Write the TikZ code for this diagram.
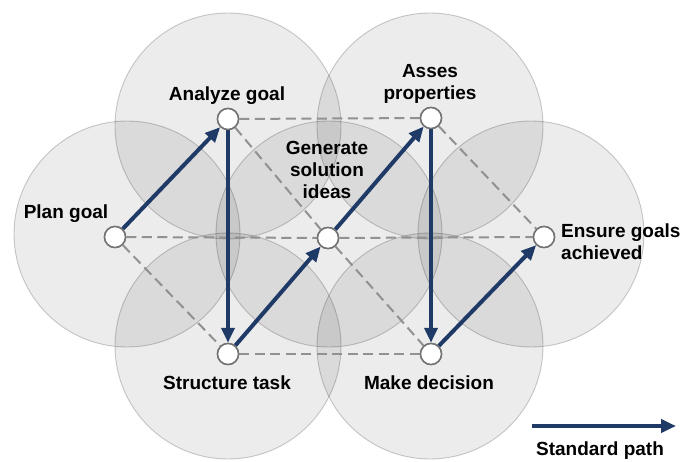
\documentclass[tikz,border=0pt]{standalone}
\usepackage{fontspec}
\setmainfont{Liberation Sans}
\usetikzlibrary{arrows.meta}
\definecolor{navy}{RGB}{31,58,102}
\definecolor{dashgray}{RGB}{145,145,145}
\begin{document}
\begin{tikzpicture}[x=1pt,y=-1pt,
  bigc/.style={fill=black,fill opacity=0.075,draw=black,draw opacity=0.2,line width=0.9pt},
  dot/.style={circle,draw=black!55,fill=white,line width=1.5pt,minimum size=21pt,inner sep=0pt},
  dash line/.style={draw=dashgray,line width=2pt,dash pattern=on 10pt off 5.5pt},
  path arrow/.style={draw=navy,line width=4pt,-{Triangle[length=15pt,width=13pt]}},
  lbl/.style={font=\fontsize{19}{22}\selectfont\bfseries,text=black,inner sep=0pt,align=center}
]
\fill[white] (0,0) rectangle (684,462);
\useasboundingbox (0,0) rectangle (684,462);

% large overlapping circles
\foreach \cx/\cy in {127/234,228/126,228/346,329/234,430/126,430/346,531/234}
  \path[bigc] (\cx,\cy) circle[radius=113];

% step points
\node[dot] (plan) at (115,237) {};
\node[dot] (ana) at (228,119) {};
\node[dot] (str) at (228,354) {};
\node[dot] (gen) at (328,238) {};
\node[dot] (ass) at (431,118) {};
\node[dot] (mak) at (431,354) {};
\node[dot] (ens) at (544,237) {};

% dashed alternatives
\path[dash line] (ana) -- (ass);
\path[dash line] (plan) -- (gen);
\path[dash line] (gen) -- (ens);
\path[dash line] (str) -- (mak);
\path[dash line] (plan) -- (str);
\path[dash line] (ana) -- (gen);
\path[dash line] (gen) -- (mak);
\path[dash line] (ass) -- (ens);

% standard path
\path[path arrow] (plan) -- (ana);
\path[path arrow] (ana) -- (str);
\path[path arrow] (str) -- (gen);
\path[path arrow] (gen) -- (ass);
\path[path arrow] (ass) -- (mak);
\path[path arrow] (mak) -- (ens);

% redraw dots on top
\foreach \n in {plan,ana,str,gen,ass,mak,ens}
  \node[dot] at (\n) {};

% labels
\node[lbl] (lplan) at (66,214) {Plan goal};
\node[lbl] (lana) at (227,96) {Analyze goal};
\node[lbl] (lgen) at (327,170) {Generate\\solution\\ideas};
\node[lbl] (lass) at (430,84) {Asses\\properties};
\node[lbl,align=left,anchor=west] (lens) at (561,242) {Ensure goals\\achieved};
\node[lbl] (lstr) at (227,383) {Structure task};
\node[lbl] (lmak) at (429,383) {Make decision};

% legend
\coordinate (legA) at (532,426);
\coordinate (legB) at (676,426);
\path[path arrow] (legA) -- (legB);
\node[lbl] (lleg) at (600,451) {Standard path};
\end{tikzpicture}
\end{document}
